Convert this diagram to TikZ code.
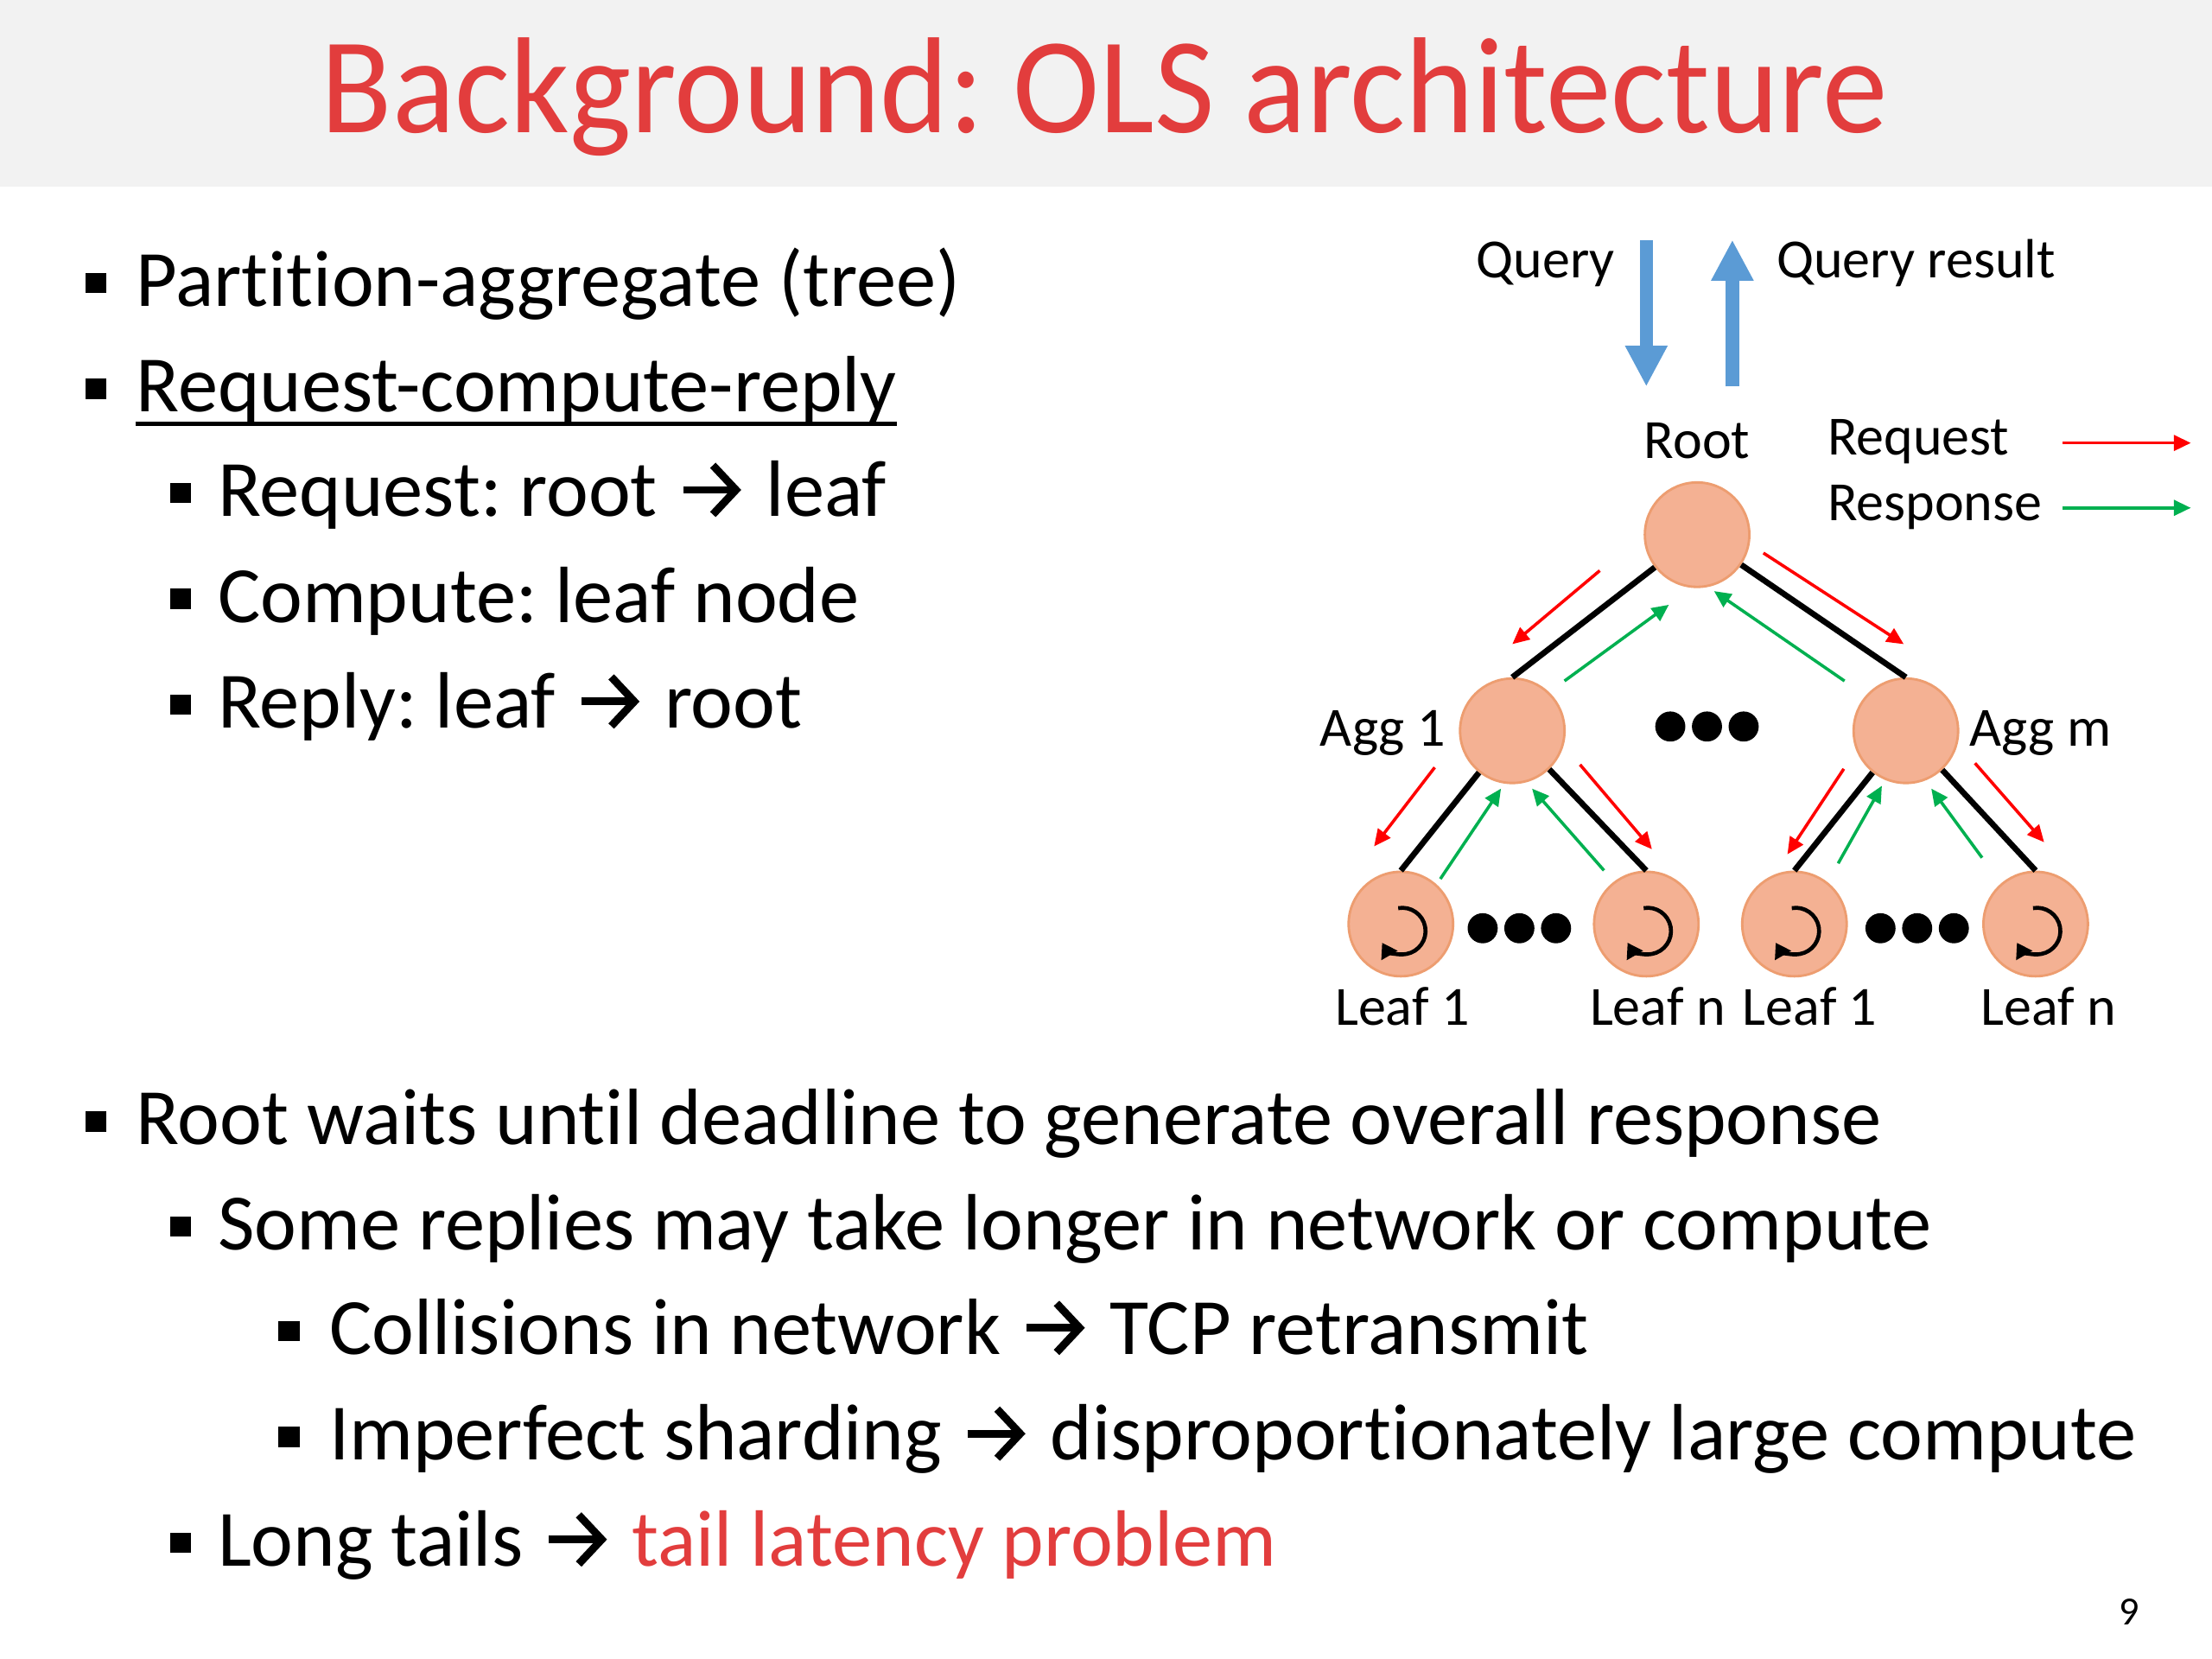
\documentclass[tikz,border=0pt]{standalone}
\usepackage{fontspec}
\setmainfont{Carlito}[Ligatures=CommonOff]
\usetikzlibrary{arrows.meta}
\frenchspacing
\definecolor{titlered}{RGB}{226,61,61}
\definecolor{bandgray}{RGB}{242,242,242}
\definecolor{qblue}{RGB}{91,155,213}
\definecolor{circfill}{RGB}{244,177,147}
\definecolor{circdraw}{RGB}{237,157,112}
\definecolor{reqred}{RGB}{255,0,0}
\definecolor{resgreen}{RGB}{0,176,80}
\newcommand{\rarrow}{\tikz[baseline=0pt]{\useasboundingbox (-2.2pt,0pt) rectangle (21.5pt,17pt);
  \draw[line width=2.5pt] (0.3pt,8.6pt) -- (17pt,8.6pt);
  \draw[line width=2.5pt, line join=miter, miter limit=10] (10pt,16.6pt) -- (17.5pt,8.6pt) -- (10pt,0.6pt);}}
\begin{document}
\begin{tikzpicture}[x=0.459184pt, y=-0.459184pt,
  body/.style={anchor=base west, inner sep=0pt, font=\fontsize{26}{32}\selectfont},
  bul/.style={rectangle, fill=black, minimum width=7pt, minimum height=6.6pt, inner sep=0pt},
  lbl/.style={inner sep=0pt, font=\fontsize{18}{22}\selectfont},
  circ/.style={circle, minimum size=34pt, inner sep=0pt, fill=circfill, draw=circdraw, line width=0.8pt},
  dot/.style={circle, fill=black, minimum size=9.8pt, inner sep=0pt},
  edge/.style={line width=1.9pt},
  req/.style={reqred, line width=1pt, -{Triangle[length=5.5pt,width=5pt]}},
  res/.style={resgreen, line width=1pt, -{Triangle[length=5.5pt,width=5pt]}},
  qarrow/.style={qblue, line width=4.3pt, -{Triangle[length=13.3pt 0 0,width=12.9pt 0 0]}},
  rot/.style={line width=1.3pt, -{Triangle[length=4.8pt,width=5.8pt]}}]
\useasboundingbox (0,0) rectangle (1568,1176);
\fill[white] (0,0) rectangle (1568,1176);
\fill[bandgray] (0,0) rectangle (1568,132);
\node[anchor=base, inner sep=0pt, font=\fontsize{44.5}{52}\selectfont, text=titlered] (title) at (783,94) {\scalebox{0.955}[1]{Background: OLS architecture}};

% bullets
\node[bul] (b1) at (68,200.5) {};
\node[body] (t1) at (96,217) {Partition-aggregate (tree)};
\node[bul] (b2) at (68,275.5) {};
\node[body] (t2) at (96,292) {Request-compute-reply};
\draw[line width=1.3pt] ([yshift=-3.8pt]t2.base west) -- ([yshift=-3.8pt]t2.base east);
\node[bul] (b3) at (128,349.5) {};
\node[body] (t3) at (154,366) {Request: root \rarrow{} leaf};
\node[bul] (b4) at (128,424.5) {};
\node[body] (t4) at (154,441) {Compute: leaf node};
\node[bul] (b5) at (128,499.5) {};
\node[body] (t5) at (154,516) {Reply: leaf \rarrow{} root};
\node[bul] (b6) at (68,795) {};
\node[body] (t6) at (96,811.5) {Root waits until deadline to generate overall response};
\node[bul] (b7) at (128,869.5) {};
\node[body] (t7) at (154,886) {Some replies may take longer in network or compute};
\node[bul] (b8) at (205,943.5) {};
\node[body] (t8) at (233,960) {Collisions in network \rarrow{} TCP retransmit};
\node[bul] (b9) at (205,1018.5) {};
\node[body] (t9) at (233,1035) {Imperfect sharding \rarrow{} disproportionately large compute};
\node[bul] (b10) at (128,1093.5) {};
\node[body] (t10) at (154,1110) {Long tails \rarrow{} \textcolor{titlered}{tail latency problem}};
\node[anchor=base east, inner sep=0pt, font=\fontsize{13}{15}\selectfont] (pg) at (1517,1152) {9};

% query arrows
\node[lbl, anchor=base east] (query) at (1145,197) {Query};
\node[lbl, anchor=base west] (qres) at (1259,197) {Query result};
\coordinate (qdtop) at (1167,170);
\coordinate (qdbot) at (1167,274);
\coordinate (qutop) at (1228,170);
\coordinate (qubot) at (1228,274);
\draw[qarrow] (qdtop) -- (qdbot);
\draw[qarrow] (qubot) -- (qutop);

% legend
\node[lbl, anchor=base west] (lreq) at (1295,322.5) {Request};
\node[lbl, anchor=base west] (lres) at (1295,369) {Response};
\coordinate (lreqa) at (1462,314);
\coordinate (lreqb) at (1553,314);
\coordinate (lresa) at (1462,360);
\coordinate (lresb) at (1553,360);
\draw[req] (lreqa) -- (lreqb);
\draw[res] (lresa) -- (lresb);

% tree nodes
\node[circ] (root) at (1203,379) {};
\node[circ] (agg1) at (1072,518) {};
\node[circ] (aggm) at (1351,518) {};
\node[circ] (l1) at (993,655) {};
\node[circ] (l2) at (1167,655) {};
\node[circ] (l3) at (1272,655) {};
\node[circ] (l4) at (1443,655) {};
\node[lbl, anchor=base] (rootlbl) at (1203,325) {Root};
\node[lbl, anchor=base east] (agg1lbl) at (1025,529) {Agg 1};
\node[lbl, anchor=base west] (aggmlbl) at (1396,529) {Agg m};
\node[lbl, anchor=base] (l1lbl) at (994,727) {Leaf 1};
\node[lbl, anchor=base] (l2lbl) at (1175,727) {Leaf n};
\node[lbl, anchor=base] (l3lbl) at (1283,727) {Leaf 1};
\node[lbl, anchor=base] (l4lbl) at (1452,727) {Leaf n};

% dots
\node[dot] (dm1) at (1184,515) {};
\node[dot] (dm2) at (1210,515) {};
\node[dot] (dm3) at (1236,515) {};
\node[dot] (dl1) at (1051,658) {};
\node[dot] (dl2) at (1077,658) {};
\node[dot] (dl3) at (1103,658) {};
\node[dot] (dr1) at (1333,658) {};
\node[dot] (dr2) at (1359,658) {};
\node[dot] (dr3) at (1385,658) {};

% edges
\draw[edge] (root) -- (agg1.north);
\draw[edge] (root) -- (aggm.north);
\draw[edge] (agg1) -- (l1.north);
\draw[edge] (agg1) -- (l2.north);
\draw[edge] (aggm) -- (l3.north);
\draw[edge] (aggm) -- (l4.north);

% rotation symbols
\foreach \n in {l1,l2,l3,l4}
  \draw[rot] (\n) ++(1,5) ++(-100:16.5) arc[start angle=-100, end angle=150, radius=16.5];

% request / response arrows
\coordinate (a1s) at (1134,404.5); \coordinate (a1e) at (1072,456.6);
\coordinate (a2s) at (1109,482.7); \coordinate (a2e) at (1183,428.7);
\coordinate (a3s) at (1250,392);   \coordinate (a3e) at (1349.5,456.6);
\coordinate (a4s) at (1307.5,482.7); \coordinate (a4e) at (1215,419);
\coordinate (a5s) at (1017,544);   \coordinate (a5e) at (974,600);
\coordinate (a6s) at (1021,623);   \coordinate (a6e) at (1064,559);
\coordinate (a7s) at (1137,617);   \coordinate (a7e) at (1086,559);
\coordinate (a8s) at (1120,542);   \coordinate (a8e) at (1171,602);
\coordinate (a9s) at (1307,545);   \coordinate (a9e) at (1267,605.6);
\coordinate (a10s) at (1303,612);  \coordinate (a10e) at (1334,557);
\coordinate (a11s) at (1405,608);  \coordinate (a11e) at (1369,559);
\coordinate (a12s) at (1400,541);  \coordinate (a12e) at (1449,597);
\draw[req] (a1s) -- (a1e);
\draw[res] (a2s) -- (a2e);
\draw[req] (a3s) -- (a3e);
\draw[res] (a4s) -- (a4e);
\draw[req] (a5s) -- (a5e);
\draw[res] (a6s) -- (a6e);
\draw[res] (a7s) -- (a7e);
\draw[req] (a8s) -- (a8e);
\draw[req] (a9s) -- (a9e);
\draw[res] (a10s) -- (a10e);
\draw[res] (a11s) -- (a11e);
\draw[req] (a12s) -- (a12e);
\end{tikzpicture}
\end{document}
